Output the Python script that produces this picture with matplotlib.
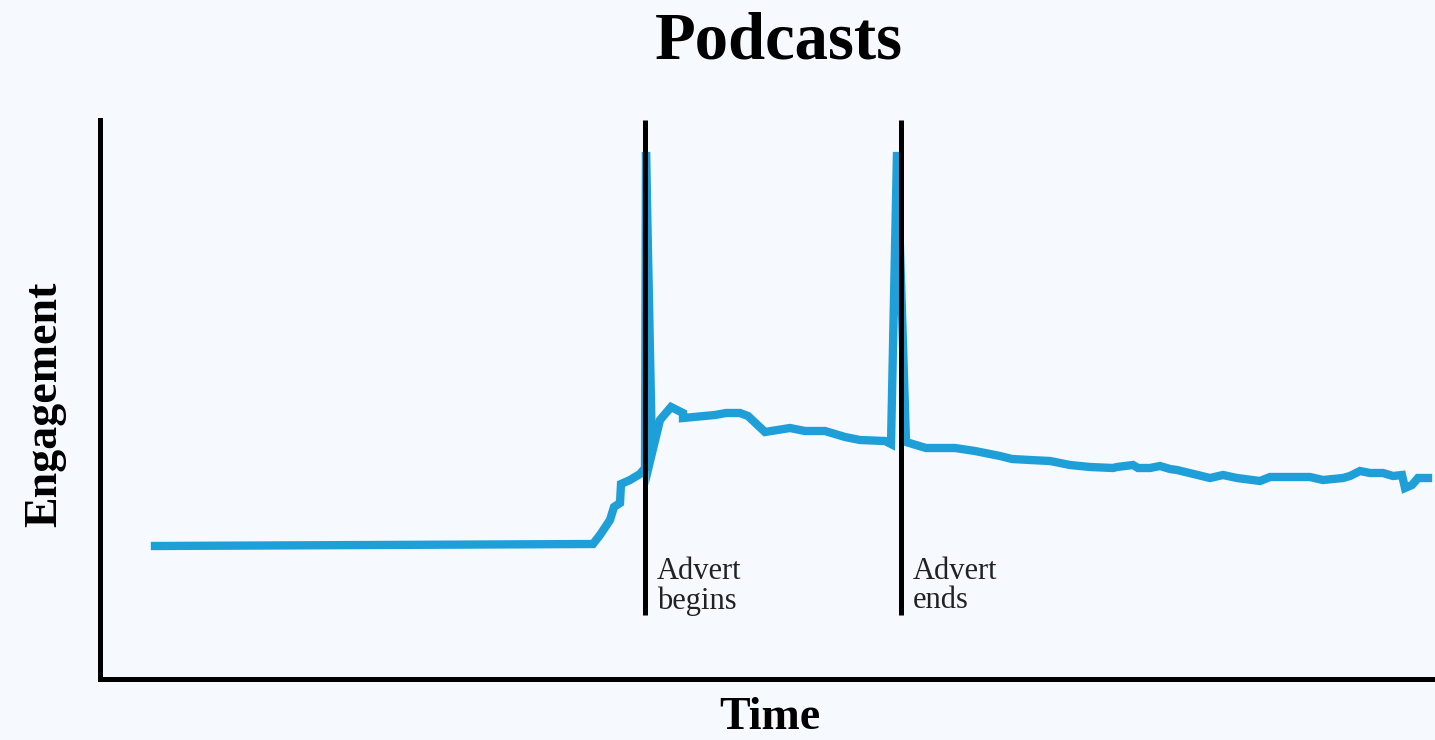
import matplotlib.pyplot as plt

# engagement over time (arbitrary units)
time = [55, 493, 500, 510, 514, 520, 521, 530, 540, 545, 546, 552, 560, 571, 583, 583,
        615, 626, 640, 648, 665, 690, 705, 725, 745, 760, 785, 791, 797, 806, 826, 855,
        875, 900, 912, 930, 950, 970, 990, 1013, 1017, 1033, 1038, 1050, 1060, 1070,
        1077, 1110, 1123, 1137, 1160, 1170, 1210, 1223, 1243, 1250, 1260, 1270, 1283,
        1293, 1302, 1305, 1312, 1318, 1328]
engagement = [133, 135, 144, 159, 172, 176, 195, 199, 205, 211, 527, 226, 259, 272, 266, 261,
              264, 266, 266, 263, 247, 251, 248, 248, 242, 239, 238, 235, 527, 237, 231, 231,
              228, 223, 220, 219, 218, 214, 212, 211, 212, 214, 211, 211, 213, 210,
              209, 201, 204, 201, 198, 202, 202, 199, 201, 203, 208, 206, 206,
              203, 204, 191, 194, 201, 201]

advert_times = [545, 801]
advert_labels = ["Advert\nbegins", "Advert\nends"]

bg = "#f6f9fe"
blue = "#1f9fd8"

fig = plt.figure(figsize=(14.35, 7.4), dpi=100, facecolor=bg)
ax = fig.add_axes([100 / 1435, 61 / 740, 1335 / 1435, 559 / 740])
ax.set_facecolor(bg)

ax.plot(time, engagement, color=blue, lw=6, solid_joinstyle="miter", zorder=2)

for t, lab in zip(advert_times, advert_labels):
    ax.vlines(t, 64, 559, color="black", lw=3.6, zorder=3, clip_on=False)
    ax.text(t + 12, 122, lab, family="Liberation Serif", fontsize=22, color="#222222",
            va="top", ha="left", linespacing=1.0)

ax.set_xlim(0, 1335)
ax.set_ylim(0, 559)
ax.set_xticks([])
ax.set_yticks([])
for s in ["top", "right"]:
    ax.spines[s].set_visible(False)
for s in ["left", "bottom"]:
    ax.spines[s].set_linewidth(3.6)
    ax.spines[s].set_color("black")

fig.text(779 / 1435, 1 - 42 / 740, "Podcasts", family="Liberation Serif", weight="bold",
         fontsize=48, ha="center", va="center")
fig.text(45 / 1435, 1 - 404 / 740, "Engagement", family="Liberation Serif", weight="bold",
         fontsize=33, rotation=90, ha="center", va="center")
fig.text(770 / 1435, 1 - 718 / 740, "Time", family="Liberation Serif", weight="bold",
         fontsize=33, ha="center", va="center")

fig.savefig("out.png", dpi=100, facecolor=bg)
